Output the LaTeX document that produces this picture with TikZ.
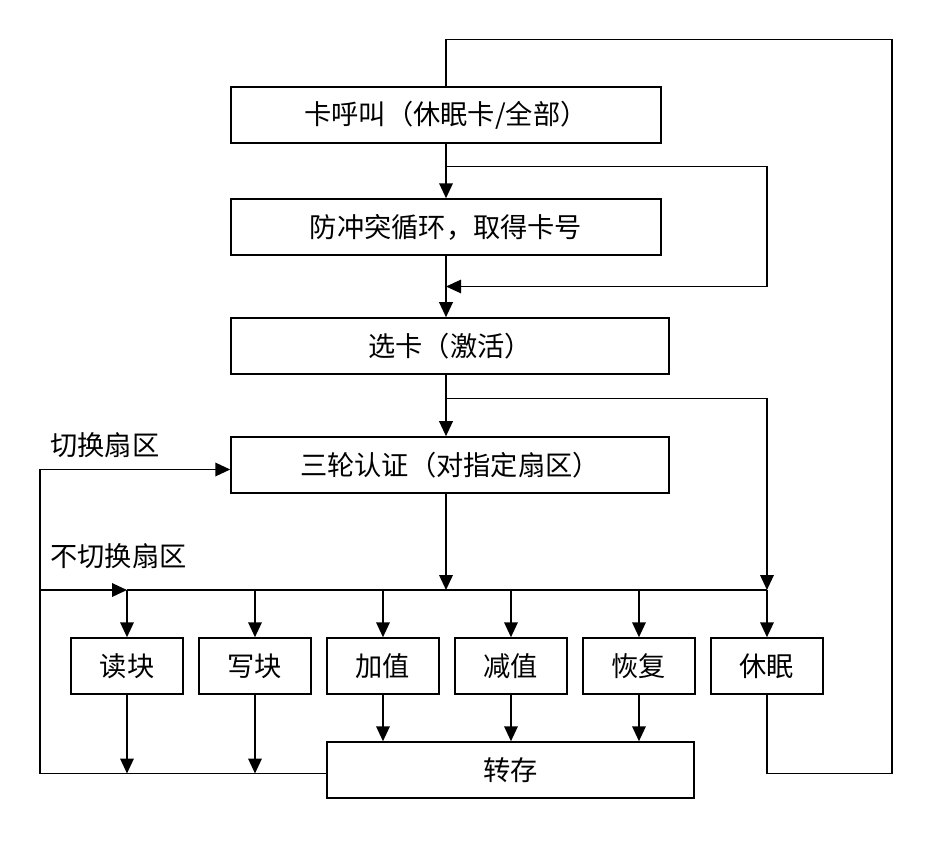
\documentclass[tikz,border=0pt]{standalone}
\usepackage{fontspec}
\newfontfamily\cjk{Noto Sans CJK SC}
\usepackage{tikz}
\usetikzlibrary{arrows.meta,positioning,calc}

\begin{document}
\begin{tikzpicture}[
  font=\cjk\fontsize{15.5}{18}\selectfont,
  node distance=0.29cm,
  box/.style={rectangle, draw, line width=0.85pt, align=center, minimum width=8.6cm, minimum height=1.12cm},
  widebox/.style={box, minimum width=8.76cm},
  smallbox/.style={rectangle, draw, line width=0.85pt, align=center, minimum width=2.24cm, minimum height=1.12cm},
  arrow/.style={-{Triangle[length=0.3cm, width=0.27cm]}, line width=1.1pt},
  thinarrow/.style={-{Triangle[length=0.3cm, width=0.27cm]}, line width=0.6pt},
  line/.style={line width=0.6pt}
]
\useasboundingbox (0,0) rectangle (18.66,-16.88);

\node[box] (call) at (8.92,-2.3) {卡呼叫（休眠卡/全部）};
\node[box, below=1.09cm of call] (anticoll) {防冲突循环，取得卡号};
\node[widebox, below=1.23cm of anticoll.south west, anchor=north west] (select) {选卡（激活）};
\node[widebox, below=1.23cm of select.south west, anchor=north west] (auth) {三轮认证（对指定扇区）};

\node[smallbox] (read) at (2.54,-13.32) {读块};
\node[smallbox, right=of read] (write) {写块};
\node[smallbox, right=of write] (inc) {加值};
\node[smallbox, right=of inc] (dec) {减值};
\node[smallbox, right=of dec] (restore) {恢复};
\node[smallbox, right=of restore] (sleep) {休眠};
\node[box, minimum width=7.34cm, below=0.93cm of inc.south west, anchor=north west] (dump) {转存};

\node[anchor=west, inner sep=0pt] (switchlbl) at (1.0,-8.9) {切换扇区};
\node[anchor=west, inner sep=0pt] (keeplbl) at (1.0,-11.12) {不切换扇区};

\coordinate (busleft) at (0.8,-11.8);
\coordinate (bus) at (call.south |- busleft);
\coordinate (busright) at (sleep.north |- busleft);
\coordinate (farright) at (17.84,-0.79);
\coordinate (split1) at ($(call.south)!0.42!(anticoll.north)$);
\coordinate (join1) at ($(anticoll.south)!0.5!(call.south |- select.north)$);
\coordinate (split2) at ($(call.south |- select.south)!0.38!(call.south |- auth.north)$);
\coordinate (authin) at ([yshift=-0.09cm]auth.west);
\coordinate (dumpout) at ([yshift=-0.07cm]dump.west);

% main column
\draw[arrow] (call) -- (anticoll);
\draw[arrow] (anticoll.south) -- (call.south |- select.north);
\draw[arrow] (call.south |- select.south) -- (call.south |- auth.north);
\draw[arrow] (call.south |- auth.south) -- (bus);

% loops on the right
\draw[thinarrow] (split1) -- (sleep.north |- split1) -- (sleep.north |- join1) -- (join1);
\draw[line] (split2) -- (sleep.north |- split2);
\draw[arrow] (sleep.north |- split2) -- (busright);

% bus to the operations
\draw[line] (read.north |- bus) -- (busright);
\draw[arrow] (busleft) -- (read.north |- bus);
\foreach \n in {read,write,inc,dec,restore,sleep}
  \draw[arrow] (\n.north |- bus) -- (\n.north);

% operations to transfer
\foreach \n in {inc,dec,restore}
  \draw[arrow] (\n.south) -- (\n.south |- dump.north);
\foreach \n in {read,write}
  \draw[arrow] (\n.south) -- (\n.south |- dumpout);

% back to authentication
\draw[line] (dumpout) -| (busleft);
\draw[arrow] (busleft) |- (authin);

% sleep back to card call
\draw[line] (sleep.south) |- (farright |- dumpout) -- (farright) -| (call.north);

\end{tikzpicture}
\end{document}
